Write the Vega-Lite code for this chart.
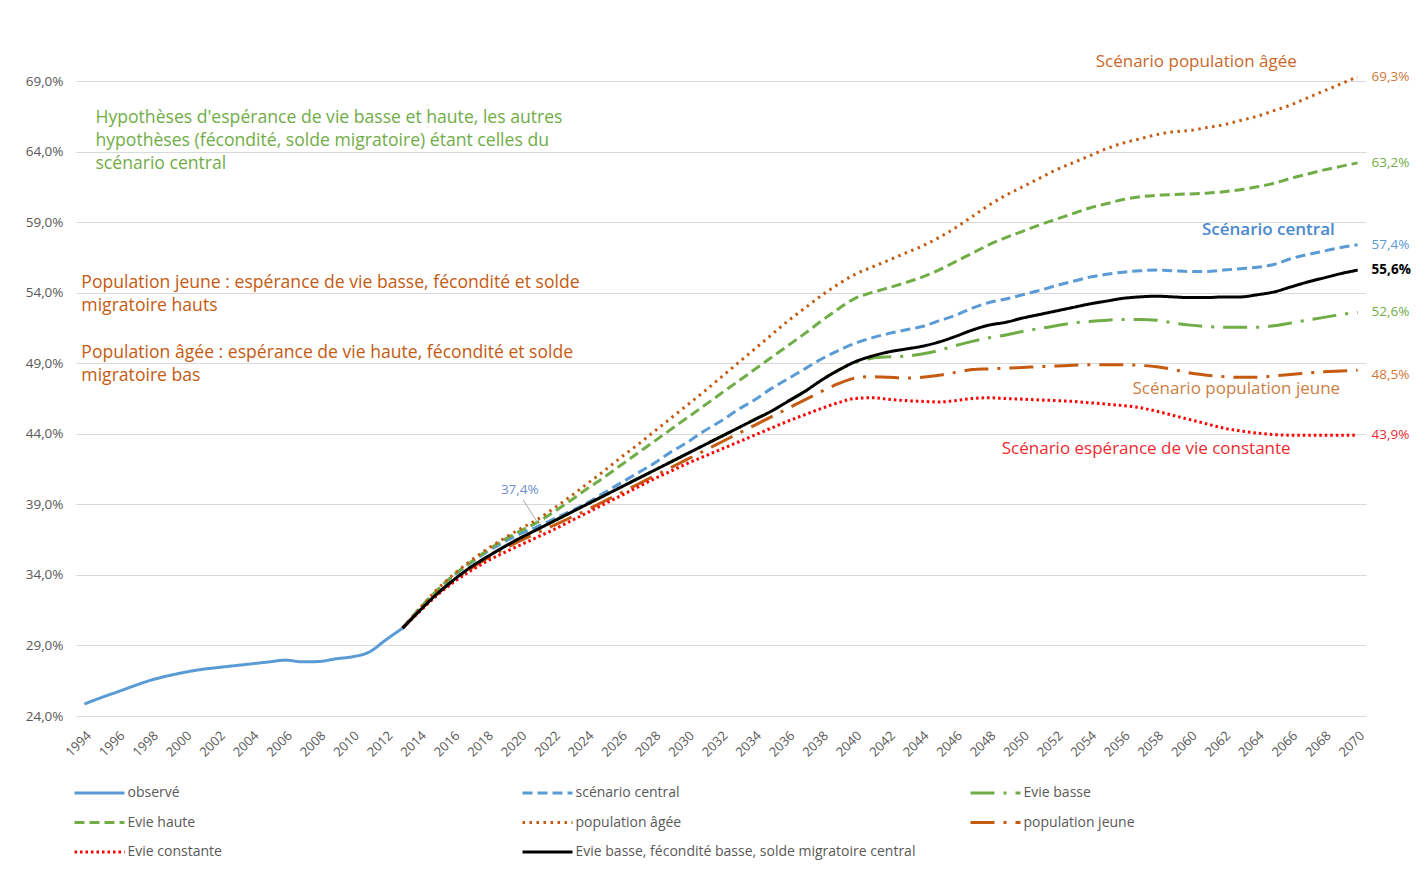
{
  "$schema": "https://vega.github.io/schema/vega-lite/v6.json",
  "width": 1290,
  "height": 635,
  "autosize": {"type": "none"},
  "padding": {"left": 76, "top": 81, "right": 50, "bottom": 159},
  "background": "#ffffff",
  "config": {"view": {"stroke": null}, "font": "Open Sans"},
  "datasets": {
    "proj": [
      {"year": 1994, "obs": 24.85}, {"year": 1995, "obs": 25.3}, {"year": 1996, "obs": 25.72}, {"year": 1997, "obs": 26.15},
      {"year": 1998, "obs": 26.55}, {"year": 1999, "obs": 26.85}, {"year": 2000, "obs": 27.1}, {"year": 2001, "obs": 27.3},
      {"year": 2002, "obs": 27.44}, {"year": 2003, "obs": 27.57}, {"year": 2004, "obs": 27.7}, {"year": 2005, "obs": 27.83},
      {"year": 2006, "obs": 27.96}, {"year": 2007, "obs": 27.84}, {"year": 2008, "obs": 27.86}, {"year": 2009, "obs": 28.05},
      {"year": 2010, "obs": 28.2}, {"year": 2011, "obs": 28.53}, {"year": 2012, "obs": 29.4},
      {"year": 2013, "obs": 30.23, "cen": 30.23, "eb": 30.23, "eh": 30.23, "pa": 30.23, "pj": 30.23, "ec": 30.23, "k": 30.23},
      {"year": 2014, "cen": 31.6, "eb": 31.45, "eh": 31.6, "pa": 31.6, "pj": 31.45, "ec": 31.4, "k": 31.45},
      {"year": 2015, "cen": 32.8, "eb": 32.6, "eh": 32.85, "pa": 32.9, "pj": 32.6, "ec": 32.5, "k": 32.6},
      {"year": 2016, "cen": 33.9, "eb": 33.6, "eh": 33.95, "pa": 34.0, "pj": 33.55, "ec": 33.45, "k": 33.6},
      {"year": 2017, "cen": 34.8, "eb": 34.5, "eh": 34.85, "pa": 34.95, "pj": 34.4, "ec": 34.25, "k": 34.5},
      {"year": 2018, "cen": 35.6, "eb": 35.25, "eh": 35.7, "pa": 35.8, "pj": 35.15, "ec": 34.95, "k": 35.25},
      {"year": 2019, "cen": 36.3, "eb": 35.95, "eh": 36.45, "pa": 36.55, "pj": 35.8, "ec": 35.55, "k": 35.95},
      {"year": 2020, "cen": 36.9, "eb": 36.6, "eh": 37.1, "pa": 37.25, "pj": 36.4, "ec": 36.1, "k": 36.6},
      {"year": 2021, "cen": 37.4, "eb": 37.2, "eh": 37.7, "pa": 37.9, "pj": 36.95, "ec": 36.65, "k": 37.2},
      {"year": 2022, "cen": 37.95, "eb": 37.8, "eh": 38.45, "pa": 38.7, "pj": 37.5, "ec": 37.2, "k": 37.8},
      {"year": 2023, "cen": 38.5, "eb": 38.4, "eh": 39.25, "pa": 39.55, "pj": 38.05, "ec": 37.8, "k": 38.4},
      {"year": 2024, "cen": 39.1, "eb": 39.0, "eh": 40.1, "pa": 40.45, "pj": 38.6, "ec": 38.4, "k": 39.0},
      {"year": 2025, "cen": 39.8, "eb": 39.6, "eh": 40.9, "pa": 41.35, "pj": 39.2, "ec": 39.0, "k": 39.6},
      {"year": 2026, "cen": 40.5, "eb": 40.2, "eh": 41.75, "pa": 42.3, "pj": 39.8, "ec": 39.6, "k": 40.2},
      {"year": 2027, "cen": 41.2, "eb": 40.8, "eh": 42.6, "pa": 43.2, "pj": 40.4, "ec": 40.2, "k": 40.8},
      {"year": 2028, "cen": 41.9, "eb": 41.4, "eh": 43.45, "pa": 44.15, "pj": 41.0, "ec": 40.8, "k": 41.4},
      {"year": 2029, "cen": 42.7, "eb": 42.0, "eh": 44.3, "pa": 45.1, "pj": 41.6, "ec": 41.35, "k": 42.0},
      {"year": 2030, "cen": 43.4, "eb": 42.6, "eh": 45.15, "pa": 46.05, "pj": 42.2, "ec": 41.9, "k": 42.6},
      {"year": 2031, "cen": 44.2, "eb": 43.2, "eh": 46.0, "pa": 47.0, "pj": 42.8, "ec": 42.4, "k": 43.2},
      {"year": 2032, "cen": 44.9, "eb": 43.8, "eh": 46.85, "pa": 48.0, "pj": 43.4, "ec": 42.9, "k": 43.8},
      {"year": 2033, "cen": 45.7, "eb": 44.4, "eh": 47.7, "pa": 49.0, "pj": 44.0, "ec": 43.4, "k": 44.4},
      {"year": 2034, "cen": 46.4, "eb": 45.0, "eh": 48.55, "pa": 50.0, "pj": 44.6, "ec": 43.9, "k": 45.0},
      {"year": 2035, "cen": 47.2, "eb": 45.6, "eh": 49.4, "pa": 51.0, "pj": 45.2, "ec": 44.4, "k": 45.6},
      {"year": 2036, "cen": 47.9, "eb": 46.3, "eh": 50.25, "pa": 52.0, "pj": 45.8, "ec": 44.9, "k": 46.3},
      {"year": 2037, "cen": 48.6, "eb": 47.0, "eh": 51.1, "pa": 52.9, "pj": 46.4, "ec": 45.35, "k": 47.0},
      {"year": 2038, "cen": 49.3, "eb": 47.8, "eh": 52.0, "pa": 53.8, "pj": 47.0, "ec": 45.8, "k": 47.8},
      {"year": 2039, "cen": 49.9, "eb": 48.5, "eh": 52.85, "pa": 54.6, "pj": 47.55, "ec": 46.2, "k": 48.5},
      {"year": 2040, "cen": 50.4, "eb": 49.05, "eh": 53.6, "pa": 55.3, "pj": 47.95, "ec": 46.5, "k": 49.1},
      {"year": 2041, "cen": 50.8, "eb": 49.35, "eh": 54.0, "pa": 55.8, "pj": 48.05, "ec": 46.55, "k": 49.5},
      {"year": 2042, "cen": 51.1, "eb": 49.45, "eh": 54.35, "pa": 56.3, "pj": 48.0, "ec": 46.45, "k": 49.8},
      {"year": 2043, "cen": 51.35, "eb": 49.5, "eh": 54.7, "pa": 56.8, "pj": 47.95, "ec": 46.35, "k": 50.0},
      {"year": 2044, "cen": 51.6, "eb": 49.65, "eh": 55.1, "pa": 57.3, "pj": 48.0, "ec": 46.3, "k": 50.2},
      {"year": 2045, "cen": 52.0, "eb": 49.9, "eh": 55.6, "pa": 57.9, "pj": 48.15, "ec": 46.25, "k": 50.5},
      {"year": 2046, "cen": 52.4, "eb": 50.25, "eh": 56.2, "pa": 58.6, "pj": 48.35, "ec": 46.35, "k": 50.9},
      {"year": 2047, "cen": 52.9, "eb": 50.55, "eh": 56.8, "pa": 59.4, "pj": 48.55, "ec": 46.5, "k": 51.35},
      {"year": 2048, "cen": 53.3, "eb": 50.8, "eh": 57.4, "pa": 60.2, "pj": 48.6, "ec": 46.55, "k": 51.7},
      {"year": 2049, "cen": 53.55, "eb": 51.0, "eh": 57.9, "pa": 60.9, "pj": 48.65, "ec": 46.5, "k": 51.9},
      {"year": 2050, "cen": 53.85, "eb": 51.25, "eh": 58.35, "pa": 61.5, "pj": 48.7, "ec": 46.45, "k": 52.2},
      {"year": 2051, "cen": 54.15, "eb": 51.45, "eh": 58.8, "pa": 62.1, "pj": 48.75, "ec": 46.4, "k": 52.45},
      {"year": 2052, "cen": 54.5, "eb": 51.65, "eh": 59.2, "pa": 62.7, "pj": 48.8, "ec": 46.35, "k": 52.7},
      {"year": 2053, "cen": 54.8, "eb": 51.85, "eh": 59.6, "pa": 63.2, "pj": 48.85, "ec": 46.3, "k": 52.95},
      {"year": 2054, "cen": 55.1, "eb": 51.95, "eh": 60.0, "pa": 63.7, "pj": 48.9, "ec": 46.2, "k": 53.2},
      {"year": 2055, "cen": 55.3, "eb": 52.05, "eh": 60.3, "pa": 64.2, "pj": 48.9, "ec": 46.1, "k": 53.4},
      {"year": 2056, "cen": 55.45, "eb": 52.1, "eh": 60.6, "pa": 64.6, "pj": 48.9, "ec": 46.0, "k": 53.6},
      {"year": 2057, "cen": 55.55, "eb": 52.1, "eh": 60.8, "pa": 64.9, "pj": 48.85, "ec": 45.85, "k": 53.7},
      {"year": 2058, "cen": 55.6, "eb": 52.05, "eh": 60.9, "pa": 65.2, "pj": 48.75, "ec": 45.6, "k": 53.75},
      {"year": 2059, "cen": 55.55, "eb": 51.85, "eh": 60.95, "pa": 65.4, "pj": 48.55, "ec": 45.3, "k": 53.7},
      {"year": 2060, "cen": 55.5, "eb": 51.7, "eh": 61.0, "pa": 65.5, "pj": 48.3, "ec": 45.0, "k": 53.65},
      {"year": 2061, "cen": 55.5, "eb": 51.6, "eh": 61.05, "pa": 65.7, "pj": 48.15, "ec": 44.7, "k": 53.65},
      {"year": 2062, "cen": 55.6, "eb": 51.55, "eh": 61.15, "pa": 65.9, "pj": 48.05, "ec": 44.4, "k": 53.7},
      {"year": 2063, "cen": 55.7, "eb": 51.55, "eh": 61.3, "pa": 66.2, "pj": 48.0, "ec": 44.2, "k": 53.7},
      {"year": 2064, "cen": 55.8, "eb": 51.55, "eh": 61.5, "pa": 66.5, "pj": 48.0, "ec": 44.05, "k": 53.85},
      {"year": 2065, "cen": 56.0, "eb": 51.65, "eh": 61.75, "pa": 66.9, "pj": 48.1, "ec": 43.95, "k": 54.05},
      {"year": 2066, "cen": 56.4, "eb": 51.85, "eh": 62.1, "pa": 67.3, "pj": 48.2, "ec": 43.9, "k": 54.4},
      {"year": 2067, "cen": 56.7, "eb": 52.05, "eh": 62.4, "pa": 67.8, "pj": 48.3, "ec": 43.9, "k": 54.75},
      {"year": 2068, "cen": 56.95, "eb": 52.25, "eh": 62.7, "pa": 68.3, "pj": 48.4, "ec": 43.9, "k": 55.05},
      {"year": 2069, "cen": 57.2, "eb": 52.45, "eh": 62.95, "pa": 68.8, "pj": 48.45, "ec": 43.9, "k": 55.35},
      {"year": 2070, "cen": 57.4, "eb": 52.6, "eh": 63.2, "pa": 69.3, "pj": 48.5, "ec": 43.9, "k": 55.6}
    ]
  },
  "encoding": {
    "x": {
      "field": "year", "type": "quantitative", "title": null,
      "scale": {"domain": [1993.5, 2070.5], "nice": false, "zero": false},
      "axis": {
        "values": [1994,1996,1998,2000,2002,2004,2006,2008,2010,2012,2014,2016,2018,2020,2022,2024,2026,2028,2030,2032,2034,2036,2038,2040,2042,2044,2046,2048,2050,2052,2054,2056,2058,2060,2062,2064,2066,2068,2070],
        "format": "d", "labelAngle": -45, "labelAlign": "right", "labelBaseline": "top",
        "grid": false, "ticks": false, "domain": false, "labelPadding": 13,
        "labelColor": "#595959", "labelFontSize": 13, "labelFont": "Open Sans",
        "labelOverlap": false, "labelBound": false, "labelFlush": false
      }
    },
    "y": {
      "field": "v", "type": "quantitative", "title": null,
      "scale": {"domain": [24, 69], "nice": false, "zero": false},
      "axis": {
        "values": [24, 29, 34, 39, 44, 49, 54, 59, 64, 69],
        "labelExpr": "replace(format(datum.value, '.1f'), '.', ',') + '%'",
        "grid": true, "gridColor": "#D9D9D9", "gridWidth": 1,
        "domain": false, "ticks": false, "labelPadding": 13,
        "labelColor": "#595959", "labelFontSize": 13.5, "labelFont": "Open Sans"
      }
    }
  },
  "layer": [
    {
      "data": {"name": "proj"},
      "transform": [{"fold": ["obs", "cen", "eb", "eh", "pa", "pj", "ec", "k"], "as": ["s", "v"]}],
      "mark": {"type": "line", "strokeWidth": 3, "interpolate": "monotone"},
      "encoding": {
        "color": {
          "field": "s", "type": "nominal",
          "scale": {
            "domain": ["obs", "eh", "ec", "cen", "pa", "k", "eb", "pj"],
            "range": ["#5B9BD5", "#70AD47", "#FF0000", "#5B9BD5", "#C55A11", "#000000", "#70AD47", "#C55A11"]
          },
          "legend": {
            "title": null, "orient": "none", "legendX": -3, "legendY": 698,
            "columns": 3, "gridAlign": "all", "columnPadding": 48, "rowPadding": 8.5,
            "symbolType": "M-2,0H2", "symbolSize": 625, "symbolStrokeWidth": 3, "symbolOffset": 12.5,
            "labelFontSize": 14, "labelColor": "#595959", "labelOffset": 14, "labelLimit": 600, "labelFont": "Open Sans",
            "labelExpr": "datum.label == 'obs' ? 'observé' : datum.label == 'cen' ? 'scénario central' : datum.label == 'eb' ? 'Evie basse' : datum.label == 'eh' ? 'Evie haute' : datum.label == 'pa' ? 'population âgée' : datum.label == 'pj' ? 'population jeune' : datum.label == 'ec' ? 'Evie constante' : 'Evie basse, fécondité basse, solde migratoire central'"
          }
        },
        "strokeDash": {
          "field": "s", "type": "nominal",
          "scale": {
            "domain": ["obs", "eh", "ec", "cen", "pa", "k", "eb", "pj"],
            "range": [[1, 0], [10, 5], [2.5, 3], [10, 5], [2.5, 4.5], [1, 0], [24, 9, 3, 9], [24, 9, 3, 9]]
          },
          "legend": {
            "title": null, "orient": "none", "legendX": -3, "legendY": 698,
            "columns": 3, "gridAlign": "all", "columnPadding": 48, "rowPadding": 8.5,
            "symbolType": "M-2,0H2", "symbolSize": 625, "symbolStrokeWidth": 3, "symbolOffset": 12.5,
            "labelFontSize": 14, "labelColor": "#595959", "labelOffset": 14, "labelLimit": 600, "labelFont": "Open Sans",
            "labelExpr": "datum.label == 'obs' ? 'observé' : datum.label == 'cen' ? 'scénario central' : datum.label == 'eb' ? 'Evie basse' : datum.label == 'eh' ? 'Evie haute' : datum.label == 'pa' ? 'population âgée' : datum.label == 'pj' ? 'population jeune' : datum.label == 'ec' ? 'Evie constante' : 'Evie basse, fécondité basse, solde migratoire central'"
          }
        }
      }
    },
    {
      "data": {"values": [
        {"year": 1994.66, "v": 66.41, "t": "Hypothèses d'espérance de vie basse et haute, les autres"},
        {"year": 1994.66, "v": 64.78, "t": "hypothèses (fécondité, solde migratoire) étant celles du"},
        {"year": 1994.66, "v": 63.15, "t": "scénario central"}
      ]},
      "mark": {"type": "text", "align": "left", "baseline": "middle", "fontSize": 17.6, "color": "#70AD47", "font": "Open Sans"},
      "encoding": {"text": {"field": "t"}}
    },
    {
      "data": {"values": [
        {"year": 1993.82, "v": 54.71, "t": "Population jeune : espérance de vie basse, fécondité et solde"},
        {"year": 1993.82, "v": 53.08, "t": "migratoire hauts"},
        {"year": 1993.82, "v": 49.74, "t": "Population âgée : espérance de vie haute, fécondité et solde"},
        {"year": 1993.82, "v": 48.11, "t": "migratoire bas"}
      ]},
      "mark": {"type": "text", "align": "left", "baseline": "middle", "fontSize": 17.6, "color": "#C55A11", "font": "Open Sans"},
      "encoding": {"text": {"field": "t"}}
    },
    {
      "data": {"values": [{"year": 2060.37, "v": 70.38, "t": "Scénario population âgée"}]},
      "mark": {"type": "text", "align": "center", "baseline": "middle", "fontSize": 17, "color": "#C9672A", "font": "Open Sans"},
      "encoding": {"text": {"field": "t"}}
    },
    {
      "data": {"values": [{"year": 2064.67, "v": 58.47, "t": "Scénario central"}]},
      "mark": {"type": "text", "align": "center", "baseline": "middle", "fontSize": 17, "fontWeight": 600, "color": "#4A89CF", "font": "Open Sans"},
      "encoding": {"text": {"field": "t"}}
    },
    {
      "data": {"values": [{"year": 2062.76, "v": 47.2, "t": "Scénario population jeune"}]},
      "mark": {"type": "text", "align": "center", "baseline": "middle", "fontSize": 17, "color": "#CC7F45", "font": "Open Sans"},
      "encoding": {"text": {"field": "t"}}
    },
    {
      "data": {"values": [{"year": 2057.38, "v": 42.95, "t": "Scénario espérance de vie constante"}]},
      "mark": {"type": "text", "align": "center", "baseline": "middle", "fontSize": 17, "color": "#EE2A2F", "font": "Open Sans"},
      "encoding": {"text": {"field": "t"}}
    },
    {
      "data": {"values": [{"year": 2020.2, "v": 39.3, "year2": 2021.1, "v2": 37.6}]},
      "mark": {"type": "rule", "color": "#A6A6A6", "strokeWidth": 1},
      "encoding": {"x2": {"field": "year2"}, "y2": {"field": "v2"}}
    },
    {
      "data": {"values": [{"year": 2019.99, "v": 40.03, "t": "37,4%"}]},
      "mark": {"type": "text", "align": "center", "baseline": "middle", "fontSize": 13.5, "color": "#6D8FCF", "font": "Open Sans"},
      "encoding": {"text": {"field": "t"}}
    },
    {
      "data": {"values": [{"year": 2070, "v": 69.3, "t": "69,3%"}, {"year": 2070, "v": 48.2, "t": "48,5%"}]},
      "mark": {"type": "text", "align": "left", "baseline": "middle", "dx": 14, "fontSize": 13.5, "color": "#D0773A", "font": "Open Sans"},
      "encoding": {"text": {"field": "t"}}
    },
    {
      "data": {"values": [{"year": 2070, "v": 63.2, "t": "63,2%"}, {"year": 2070, "v": 52.6, "t": "52,6%"}]},
      "mark": {"type": "text", "align": "left", "baseline": "middle", "dx": 14, "fontSize": 13.5, "color": "#70AD47", "font": "Open Sans"},
      "encoding": {"text": {"field": "t"}}
    },
    {
      "data": {"values": [{"year": 2070, "v": 57.4, "t": "57,4%"}]},
      "mark": {"type": "text", "align": "left", "baseline": "middle", "dx": 14, "fontSize": 13.5, "color": "#5B9BD5", "font": "Open Sans"},
      "encoding": {"text": {"field": "t"}}
    },
    {
      "data": {"values": [{"year": 2070, "v": 55.6, "t": "55,6%"}]},
      "mark": {"type": "text", "align": "left", "baseline": "middle", "dx": 14, "fontSize": 13.5, "fontWeight": "bold", "color": "#000000", "font": "Open Sans"},
      "encoding": {"text": {"field": "t"}}
    },
    {
      "data": {"values": [{"year": 2070, "v": 43.9, "t": "43,9%"}]},
      "mark": {"type": "text", "align": "left", "baseline": "middle", "dx": 14, "fontSize": 13.5, "color": "#EE2A2F", "font": "Open Sans"},
      "encoding": {"text": {"field": "t"}}
    }
  ]
}
